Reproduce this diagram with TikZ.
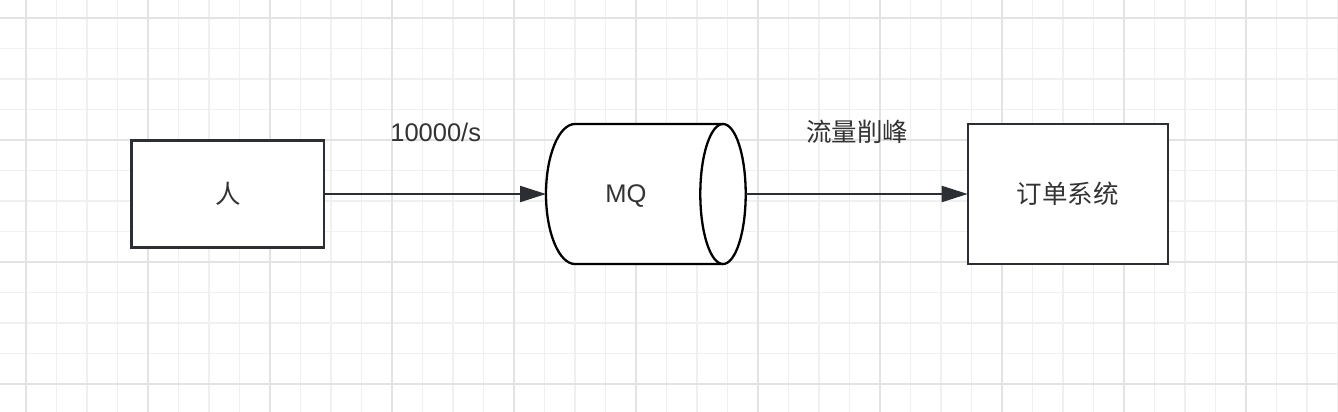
\documentclass[tikz,border=0pt]{standalone}
\usepackage{fontspec}
\setmainfont{Liberation Sans}
\newfontfamily\cjk{Noto Sans CJK SC}
\usetikzlibrary{arrows.meta}
\definecolor{stroke}{HTML}{2B2E33}
\definecolor{txtc}{HTML}{333333}
\definecolor{gridminor}{HTML}{F0F0F0}
\definecolor{gridmajor}{HTML}{E3E3E3}
\tikzset{
  boxnode/.style={draw=stroke, line width=2.3pt, fill=white, inner sep=0pt, outer sep=0pt, text=txtc, font=\cjk\fontsize{25.5}{30}\selectfont},
  cylnode/.style={inner sep=0pt, outer sep=0pt, minimum width=200pt, minimum height=140pt},
  lbl/.style={text=txtc, inner sep=0pt, anchor=base},
  arr/.style={draw=stroke, line width=2.2pt, -{Triangle[length=26pt, width=16pt]}}
}
\begin{document}
\begin{tikzpicture}[x=1pt, y=-1pt]
\useasboundingbox (0,0) rectangle (1338,412);
\fill[white] (0,0) rectangle (1338,412);
\begin{scope}
\clip (0,0) rectangle (1338,412);
\foreach \x in {26,56.5,...,1340} \draw[gridminor, line width=1.4pt] (\x,0) -- (\x,412);
\foreach \y in {18,48.5,...,412} \draw[gridminor, line width=1.4pt] (0,\y) -- (1338,\y);
\foreach \x in {26,148,...,1340} \draw[gridmajor, line width=1.4pt] (\x,0) -- (\x,412);
\foreach \y in {18,140,...,412} \draw[gridmajor, line width=1.4pt] (0,\y) -- (1338,\y);
\end{scope}

% nodes
\node[boxnode, minimum width=192.5pt, minimum height=107pt] (ren) at (227.75,194) {人};
\node[boxnode, minimum width=200.3pt, minimum height=140pt] (order) at (1067.85,194) {订单系统};
\node[cylnode] (mq) at (646,194) {};

% cylinder
\fill[white] (575,124) -- (723,124) -- (723,264) -- (575,264)
  arc[start angle=270, end angle=90, x radius=29pt, y radius=70pt] -- cycle;
\fill[white] (723,194) ellipse [x radius=22.7pt, y radius=70pt];
\draw[stroke, line width=2.3pt] (723,124) -- (575,124)
  arc[start angle=90, end angle=270, x radius=29pt, y radius=70pt] -- (723,264);
\draw[stroke, line width=2.3pt] (723,194) ellipse [x radius=22.7pt, y radius=70pt];
\node[lbl, font=\fontsize{25.5}{30}\selectfont] (mqtext) at (626,202.5) {MQ};

% connectors
\draw[arr] (ren.east) -- (mq.west);
\draw[arr] (mq.east) -- (order.west);

% labels
\node[lbl, font=\fontsize{25.5}{30}\selectfont] (rate) at (435.7,141) {10000/s};
\node[lbl, font=\cjk\fontsize{25.5}{30}\selectfont] (peak) at (857,141) {流量削峰};
\end{tikzpicture}
\end{document}
